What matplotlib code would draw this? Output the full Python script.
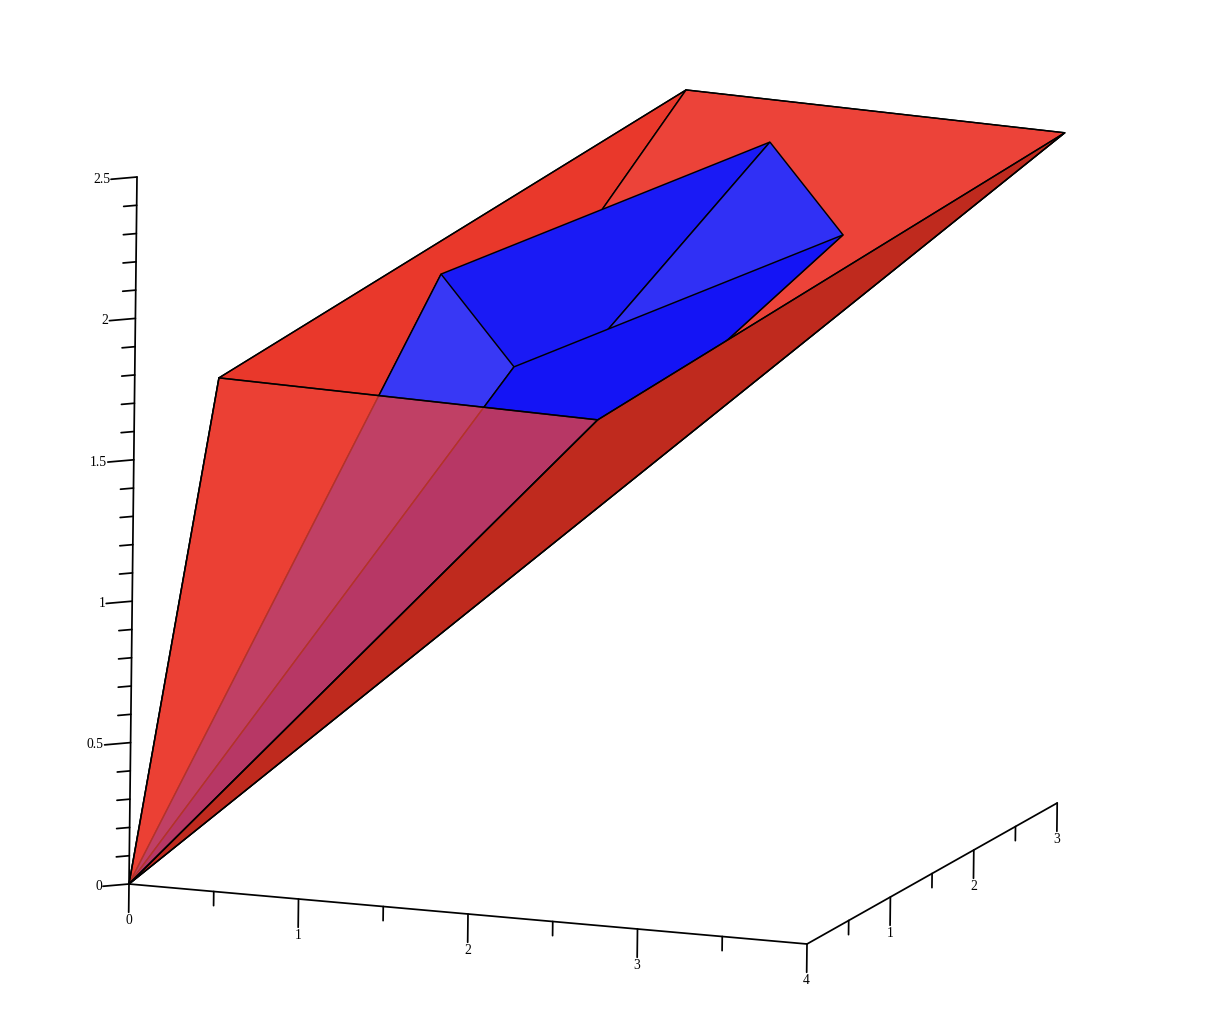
import numpy as np
import matplotlib
matplotlib.use("Agg")
import matplotlib.pyplot as plt

# polytope vertices in data coords (x, y, z)
origin = (0, 0, 0)
red_a = (0.008, 1, 1.624)
red_b = (2.243, 1, 1.594)
red_c = (1.765, 3, 2.403)
red_d = (4, 3, 2.37)
blue_a = (1.066, 1.5, 1.964)
blue_b = (1.502, 1.5, 1.659)
blue_c = (2.507, 2.5, 2.341)
blue_d = (2.944, 2.5, 2.036)

# axis ranges and ticks
x_max, y_max, z_max = 4, 3, 2.5
x_ticks = [0, 0.5, 1, 1.5, 2, 2.5, 3, 3.5, 4]
y_ticks = [0, 0.5, 1, 1.5, 2, 2.5, 3]
z_ticks = [0, 0.1, 0.2, 0.3, 0.4, 0.5, 0.6, 0.7, 0.8, 0.9, 1, 1.1, 1.2, 1.3, 1.4,
           1.5, 1.6, 1.7, 1.8, 1.9, 2, 2.1, 2.2, 2.3, 2.4, 2.5]
x_labels = {0: "0", 1: "1", 2: "2", 3: "3", 4: "4"}
y_labels = {1: "1", 2: "2", 3: "3"}
z_labels = {0: "0", 0.5: "0.5", 1: "1", 1.5: "1.5", 2: "2", 2.5: "2.5"}

plt.rcParams["font.family"] = ["Liberation Serif", "DejaVu Serif"]

# orthographic view fitted to the axis ticks, gives pixel position
view = np.array([[169.5, 83.4, 3.2], [15.0, -47.0, -282.8]])
view_origin = np.array([129.0, 884.0])


def project(p):
    return view_origin + view @ np.asarray(p, dtype=float)


def face(ax, pts, color, alpha=1.0, zorder=2):
    xy = np.array([project(p) for p in pts])
    ax.fill(xy[:, 0], xy[:, 1], facecolor=color, alpha=alpha, edgecolor="none", zorder=zorder)
    closed = np.vstack([xy, xy[:1]])
    ax.plot(closed[:, 0], closed[:, 1], color="black", lw=1.05, alpha=alpha,
            solid_joinstyle="miter", zorder=zorder)


def seg(ax, p, q, lw=1.25):
    a, b = project(p), project(q)
    ax.plot([a[0], b[0]], [a[1], b[1]], color="black", lw=lw, solid_capstyle="round", zorder=6)


fig = plt.figure(figsize=(12.08, 10.14), dpi=100)
ax = fig.add_axes([0, 0, 1, 1])
ax.set_xlim(0, 1208)
ax.set_ylim(1014, 0)
ax.axis("off")

# back walls of the red cone
face(ax, [origin, red_a, red_c], "#e9382b")
face(ax, [origin, red_c, red_d], "#ec4339")

# blue cone
face(ax, [origin, blue_a, blue_c], "#1a1af5", zorder=3)
face(ax, [origin, blue_c, blue_d], "#3030f5", zorder=3)
face(ax, [origin, blue_a, blue_b], "#3838f5", zorder=3)
face(ax, [origin, blue_b, blue_d], "#1414f5", zorder=3)

# front faces of red cone, the left one is see through
face(ax, [origin, red_a, red_b], "#ec4338", alpha=0.76, zorder=4)
face(ax, [origin, red_b, red_d], "#bf2a1e", zorder=5)

seg(ax, origin, red_a, lw=1.1)
seg(ax, red_a, red_b, lw=1.1)
seg(ax, origin, red_b, lw=1.1)
seg(ax, red_a, red_c, lw=0.95)
seg(ax, red_c, red_d, lw=0.95)
seg(ax, red_b, red_d, lw=0.95)
seg(ax, origin, red_d, lw=0.95)

# axes
seg(ax, (0, 0, 0), (x_max, 0, 0))
seg(ax, (x_max, 0, 0), (x_max, y_max, 0))
seg(ax, (0, 0, 0), (0, 0, z_max))

for t in x_ticks:
    major = t in x_labels
    seg(ax, (t, 0, 0), (t, 0, -0.1 if major else -0.05))
    if major:
        px = project((t, 0, -0.1))
        ax.text(px[0], px[1] + 8, x_labels[t], fontsize=9.8, ha="center", va="center", zorder=7)

for t in y_ticks:
    major = t == int(t)
    if t > 0:
        seg(ax, (x_max, t, 0), (x_max, t, -0.1 if major else -0.05))
    if t in y_labels:
        px = project((x_max, t, -0.1))
        ax.text(px[0], px[1] + 8, y_labels[t], fontsize=9.8, ha="center", va="center", zorder=7)

# z ticks run along the floor diagonal
for t in z_ticks:
    major = t in z_labels
    k = 0.028 if major else 0.014
    seg(ax, (0, 0, t), (-4 * k, -3 * k, t))
    if major:
        px = project((-4 * 0.028, -3 * 0.028, t))
        ax.text(px[0] - 1, px[1], z_labels[t], fontsize=9.8, ha="right", va="center", zorder=7)

fig.savefig("out.png", dpi=100)
